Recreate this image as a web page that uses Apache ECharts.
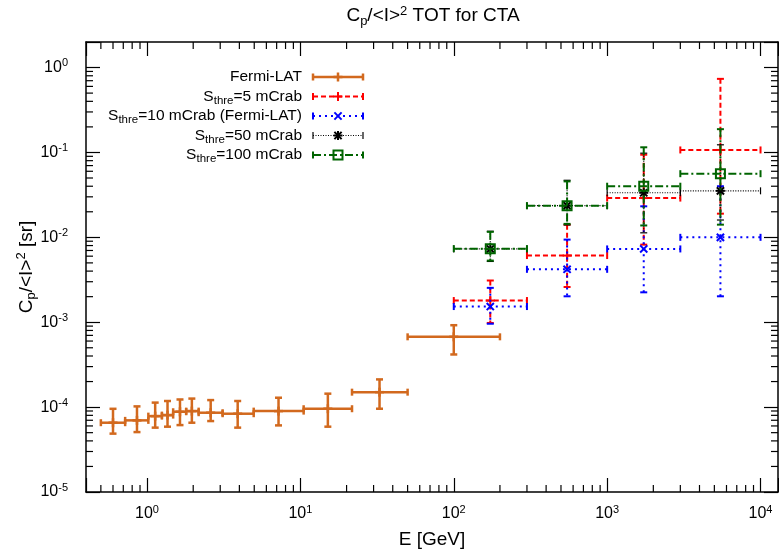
<!DOCTYPE html>
<html>
<head>
<meta charset="utf-8">
<title>Cp/&lt;I&gt;^2 TOT for CTA</title>
<script src="https://cdn.jsdelivr.net/npm/echarts@6/dist/echarts.min.js"></script>
<style>
    html, body { margin: 0; padding: 0; background: #fff; }
    #chart { width: 779px; height: 552px; }
</style>
</head>
<body>
<div id="chart"></div>
<script>
// Fermi-LAT: bin centre, bin edges, value and error range
var fermiE   = [0.60, 0.86, 1.13, 1.36, 1.64, 1.96, 2.60, 3.90, 7.2, 15.1, 32.8, 100];
var fermiElo = [0.50, 0.72, 1.02, 1.25, 1.48, 1.80, 2.17, 3.11, 4.96, 10.5, 21.7, 50];
var fermiEhi = [0.72, 1.02, 1.25, 1.48, 1.80, 2.17, 3.11, 4.96, 10.5, 21.7, 50, 200];
var fermiC   = [6.55e-5, 6.98e-5, 7.83e-5, 8.05e-5, 8.82e-5, 8.97e-5, 8.59e-5, 8.36e-5, 8.97e-5, 9.57e-5, 1.50e-4, 6.73e-4];
var fermiClo = [4.87e-5, 5.08e-5, 5.73e-5, 5.88e-5, 6.14e-5, 6.55e-5, 6.85e-5, 5.73e-5, 6.09e-5, 5.88e-5, 9.57e-5, 4.17e-4];
var fermiChi = [9.55e-5, 1.02e-4, 1.13e-4, 1.18e-4, 1.23e-4, 1.26e-4, 1.21e-4, 1.18e-4, 1.29e-4, 1.44e-4, 2.12e-4, 9.22e-4];

// CTA energy bins
var ctaE   = [173, 548, 1732, 5477];
var ctaElo = [100, 300, 1000, 3000];
var ctaEhi = [300, 1000, 3000, 10000];

// CTA thresholds
var s5C    = [1.80e-3, 6.10e-3, 2.90e-2, 0.107];
var s5Lo   = [9.8e-4, 2.6e-3, 8.2e-3, 1.9e-2];
var s5Hi   = [3.1e-3, 1.41e-2, 9.4e-2, 0.736];
var s10C   = [1.53e-3, 4.2e-3, 7.3e-3, 1.0e-2];
var s10Lo  = [9.6e-4, 2.02e-3, 2.25e-3, 2.02e-3];
var s10Hi  = [2.54e-3, 9.4e-3, 2.32e-2, 4.0e-2];
var s50C   = [7.3e-3, 2.36e-2, 3.35e-2, 3.53e-2];
var s50Lo  = [5.2e-3, 1.4e-2, 1.13e-2, 1.6e-2];
var s50Hi  = [1.18e-2, 4.7e-2, 9.8e-2, 0.123];
var s100C  = [7.36e-3, 2.36e-2, 4.0e-2, 5.62e-2];
var s100Lo = [5.32e-3, 1.44e-2, 1.38e-2, 1.41e-2];
var s100Hi = [1.16e-2, 4.56e-2, 0.115, 0.188];

// axes
var xMin = 0.4, xMax = 13000;
var yMin = 1e-5, yMax = 2;
var minorSteps = [2, 3, 4, 5, 6, 7, 8, 9];
var xDecades = [0.1, 1, 10, 100, 1000];
var yDecades = [1e-5, 1e-4, 1e-3, 1e-2, 1e-1];

var FONT = 'Liberation Sans, Arial, sans-serif';

function rows(E, Elo, Ehi, C, Clo, Chi) {
    var out = [];
    for (var i = 0; i < E.length; i++) {
        out.push([E[i], C[i], Elo[i], Ehi[i], Clo[i], Chi[i]]);
    }
    return out;
}

function minorValues(decades, lo, hi) {
    var out = [];
    decades.forEach(function (d) {
        minorSteps.forEach(function (m) {
            var v = d * m;
            if (v > lo * 1.001 && v < hi * 0.999) out.push(v);
        });
    });
    return out;
}

function seg(x1, y1, x2, y2, style) {
    return { type: 'line', shape: { x1: x1, y1: y1, x2: x2, y2: y2 }, style: style };
}

function marker(kind, cx, cy, st) {
    var s = { stroke: st.color, lineWidth: st.markWidth || st.width, fill: null };
    var h = 4.5;
    var out = [];
    if (kind === 'plus' || kind === 'star') {
        out.push(seg(cx - h, cy, cx + h, cy, s));
        out.push(seg(cx, cy - h, cx, cy + h, s));
    }
    if (kind === 'cross' || kind === 'star') {
        out.push(seg(cx - h * 0.8, cy - h * 0.8, cx + h * 0.8, cy + h * 0.8, s));
        out.push(seg(cx - h * 0.8, cy + h * 0.8, cx + h * 0.8, cy - h * 0.8, s));
    }
    if (kind === 'square') {
        out.push({ type: 'rect', shape: { x: cx - 4.5, y: cy - 4.5, width: 9, height: 9 }, style: s });
    }
    return out;
}

function errorBars(st) {
    return function (params, api) {
        var x = api.value(0), y = api.value(1);
        var c = api.coord([x, y]);
        var l = api.coord([api.value(2), y]);
        var r = api.coord([api.value(3), y]);
        var b = api.coord([x, api.value(4)]);
        var t = api.coord([x, api.value(5)]);
        var ls = { stroke: st.color, lineWidth: st.width, lineDash: st.dash, fill: null };
        var cs = { stroke: st.color, lineWidth: st.width, fill: null };
        var k = st.cap;
        var kids = [
            seg(l[0], c[1], r[0], c[1], ls),
            seg(c[0], t[1], c[0], b[1], ls),
            seg(l[0], c[1] - k, l[0], c[1] + k, cs),
            seg(r[0], c[1] - k, r[0], c[1] + k, cs),
            seg(c[0] - k, t[1], c[0] + k, t[1], cs),
            seg(c[0] - k, b[1], c[0] + k, b[1], cs)
        ];
        return { type: 'group', children: kids.concat(marker(st.symbol, c[0], c[1], st)) };
    };
}

var styles = [
    { name: 'Fermi-LAT', label: '{n|Fermi-LAT}', color: '#d2691e', width: 2.5, dash: null, cap: 3.5, symbol: 'plus',
      data: rows(fermiE, fermiElo, fermiEhi, fermiC, fermiClo, fermiChi) },
    { name: 'S5', label: '{n|S}{sub|thre}{n|=5 mCrab}', color: '#ff0000', width: 2, dash: [5, 3], cap: 3.5, symbol: 'plus',
      data: rows(ctaE, ctaElo, ctaEhi, s5C, s5Lo, s5Hi) },
    { name: 'S10', label: '{n|S}{sub|thre}{n|=10 mCrab (Fermi-LAT)}', color: '#0000ff', width: 2, dash: [2, 4], cap: 3.5, symbol: 'cross',
      data: rows(ctaE, ctaElo, ctaEhi, s10C, s10Lo, s10Hi) },
    { name: 'S50', label: '{n|S}{sub|thre}{n|=50 mCrab}', color: '#000000', width: 1.2, dash: [1, 1.5], cap: 3.5, symbol: 'star', markWidth: 2,
      data: rows(ctaE, ctaElo, ctaEhi, s50C, s50Lo, s50Hi) },
    { name: 'S100', label: '{n|S}{sub|thre}{n|=100 mCrab}', color: '#006400', width: 2, dash: [8, 3, 2, 3], cap: 3.5, symbol: 'square',
      data: rows(ctaE, ctaElo, ctaEhi, s100C, s100Lo, s100Hi) }
];

function richSet(big, small, shift) {
    return {
        n: { fontSize: big, fontFamily: FONT, color: '#000' },
        sub: { fontSize: small, fontFamily: FONT, color: '#000', padding: [shift, 0, 0, 0] },
        sup: { fontSize: small, fontFamily: FONT, color: '#000', padding: [0, 0, shift, 0] }
    };
}

var legendRich = richSet(15.5, 11.5, 8);
var titleRich = richSet(19, 13, 10);

var tickRich = {
    b: { fontSize: 16, fontFamily: FONT, color: '#000' },
    s: { fontSize: 11, fontFamily: FONT, color: '#000', padding: [0, 0, 9, 0] }
};

function powLabel(v) {
    var e = Math.log(v) / Math.LN10;
    if (Math.abs(e - Math.round(e)) > 1e-6) return '';
    return '{b|10}{s|' + Math.round(e) + '}';
}

var axisBase = {
    type: 'log',
    logBase: 10,
    axisLine: { onZero: false, lineStyle: { color: '#000', width: 1.5 } },
    axisTick: { inside: true, length: 14, lineStyle: { color: '#000', width: 1.2 } },
    splitLine: { show: false }
};

function axis(extra) {
    return Object.assign({}, axisBase, extra);
}

var series = [];

// minor ticks on all four sides
series.push({
    type: 'custom', silent: true, clip: false,
    data: minorValues(xDecades, xMin, xMax).map(function (v) { return [v, 1]; }),
    renderItem: function (params, api) {
        var p = api.coord([api.value(0), 1]);
        var g = params.coordSys;
        var s = { stroke: '#000', lineWidth: 1.2 };
        return { type: 'group', children: [
            seg(p[0], g.y + g.height, p[0], g.y + g.height - 7, s),
            seg(p[0], g.y, p[0], g.y + 7, s)
        ] };
    }
});
series.push({
    type: 'custom', silent: true, clip: false,
    data: minorValues(yDecades, yMin, yMax).map(function (v) { return [1, v]; }),
    renderItem: function (params, api) {
        var p = api.coord([1, api.value(1)]);
        var g = params.coordSys;
        var s = { stroke: '#000', lineWidth: 1.2 };
        return { type: 'group', children: [
            seg(g.x, p[1], g.x + 7, p[1], s),
            seg(g.x + g.width, p[1], g.x + g.width - 7, p[1], s)
        ] };
    }
});

styles.forEach(function (st) {
    series.push({
        type: 'custom',
        name: st.name,
        data: st.data,
        encode: { x: [0, 2, 3], y: [1, 4, 5] },
        renderItem: errorBars(st)
    });
});

// legend (drawn like gnuplot's key: text right-aligned, sample to the right)
var legendTextRight = 302, sampleL = 313, sampleR = 363, legendTop = 77, legendStep = 19.5;
var graphics = [];
styles.forEach(function (st, i) {
    var y = legendTop + i * legendStep;
    var ls = { stroke: st.color, lineWidth: st.width, lineDash: st.dash, fill: null };
    var cs = { stroke: st.color, lineWidth: st.width, fill: null };
    graphics.push({
        type: 'text', x: legendTextRight, y: y,
        style: { text: st.label, rich: legendRich, align: 'right', verticalAlign: 'middle' }
    });
    var kids = [
        seg(sampleL, y, sampleR, y, ls),
        seg(sampleL, y - 3.5, sampleL, y + 3.5, cs),
        seg(sampleR, y - 3.5, sampleR, y + 3.5, cs)
    ].concat(marker(st.symbol, (sampleL + sampleR) / 2, y, st));
    graphics.push({ type: 'group', children: kids });
});

graphics.push({
    type: 'text', x: 433, y: 16,
    style: {
        text: '{n|C}{sub|p}{n|/<I>}{sup|2}{n| TOT for CTA}',
        rich: titleRich, align: 'center', verticalAlign: 'middle'
    }
});

var chart = echarts.init(document.getElementById('chart'), null, { renderer: 'canvas' });
chart.setOption({
    animation: false,
    backgroundColor: '#fff',
    grid: { left: 86, top: 42, width: 692, height: 450, containLabel: false, outerBoundsMode: 'none' },
    xAxis: [
        axis({
            position: 'bottom', min: xMin, max: xMax,
            axisLabel: { interval: 0, margin: 12, formatter: powLabel, rich: tickRich },
            name: 'E [GeV]', nameLocation: 'middle', nameGap: 38, nameMoveOverlap: false,
            nameTextStyle: { fontSize: 19, fontFamily: FONT, color: '#000' }
        }),
        axis({ position: 'top', min: xMin, max: xMax, axisLabel: { show: false } })
    ],
    yAxis: [
        axis({
            position: 'left', min: yMin, max: yMax,
            axisLabel: { interval: 0, margin: 18, formatter: powLabel, rich: tickRich },
            name: '{n|C}{sub|p}{n|/<I>}{sup|2}{n| [sr]}', nameLocation: 'middle', nameGap: 48, nameRotate: 90,
            nameMoveOverlap: false,
            nameTextStyle: { rich: titleRich }
        }),
        axis({ position: 'right', min: yMin, max: yMax, axisLabel: { show: false } })
    ],
    series: series,
    graphic: graphics
});
</script>
</body>
</html>
